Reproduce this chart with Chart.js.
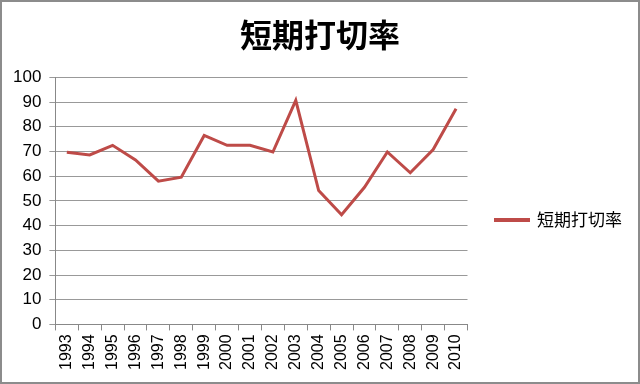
<!DOCTYPE html>
<html><head><meta charset="utf-8">
<script src="https://cdn.jsdelivr.net/npm/chart.js@4"></script>
<style>
html,body{margin:0;padding:0;background:#fff;}
#wrap{width:640px;height:384px;box-sizing:border-box;border:2px solid #8c8c8c;}
canvas{display:block;}
</style></head><body>
<div id="wrap"><canvas id="c" width="636" height="380"></canvas></div>
<script>
const years = ["1993","1994","1995","1996","1997","1998","1999","2000","2001","2002","2003","2004","2005","2006","2007","2008","2009","2010"];
const rates = [69.7,68.6,72.5,66.6,58.0,59.6,76.5,72.5,72.5,69.8,90.7,54.2,44.4,55.5,69.8,61.4,70.8,87.3];
const yTicks = [0,10,20,30,40,50,60,70,80,90,100];
const seriesName = "短期打切率";
const lineColor = "#BE4B48";

const legendWiden = {
  id: 'legendWiden',
  beforeLayout(chart) {
    const lg = chart.legend;
    if (lg && !lg._widened) {
      const orig = lg.fit.bind(lg);
      lg.fit = function () { orig(); this.width += 10; };
      lg._widened = true;
    }
  }
};

new Chart(document.getElementById('c'), {
  type: 'line',
  data: {
    labels: years,
    datasets: [{
      label: seriesName,
      data: rates,
      borderColor: lineColor,
      backgroundColor: lineColor,
      borderWidth: 3,
      pointRadius: 0,
      tension: 0,
      fill: false
    }]
  },
  plugins: [legendWiden],
  options: {
    responsive: false,
    animation: false,
    layout: { padding: { top: 10, right: 3, left: 3, bottom: 8 } },
    plugins: {
      title: {
        display: true,
        text: seriesName,
        color: '#000',
        font: { family: "'Noto Sans CJK JP'", size: 32, weight: 'bold' },
        padding: { top: 4, bottom: 23 }
      },
      legend: {
        position: 'right',
        title: { display: true, text: ' ', padding: { top: 21, bottom: 21 }, font: { size: 10 } },
        labels: {
          boxWidth: 33,
          boxHeight: 1,
          color: '#000',
          padding: 28,
          font: { family: "'Noto Sans CJK JP'", size: 17 }
        }
      },
      tooltip: { enabled: false }
    },
    scales: {
      x: {
        offset: true,
        grid: { offset: true, drawOnChartArea: false, drawTicks: true, tickLength: 6, color: '#888' },
        border: { color: '#888' },
        ticks: {
          color: '#000', maxRotation: 90, minRotation: 90, autoSkip: false,
          font: { family: "'Liberation Sans'", size: 16 }, padding: 4
        }
      },
      y: {
        min: 0, max: 100,
        afterBuildTicks: (ax) => { ax.ticks = yTicks.map(v => ({ value: v })); },
        grid: { color: '#999', tickLength: 6, lineWidth: 1 },
        border: { color: '#888' },
        ticks: { color: '#000', font: { family: "'Liberation Sans'", size: 17 }, padding: 8 }
      }
    }
  }
});
</script>
</body></html>
